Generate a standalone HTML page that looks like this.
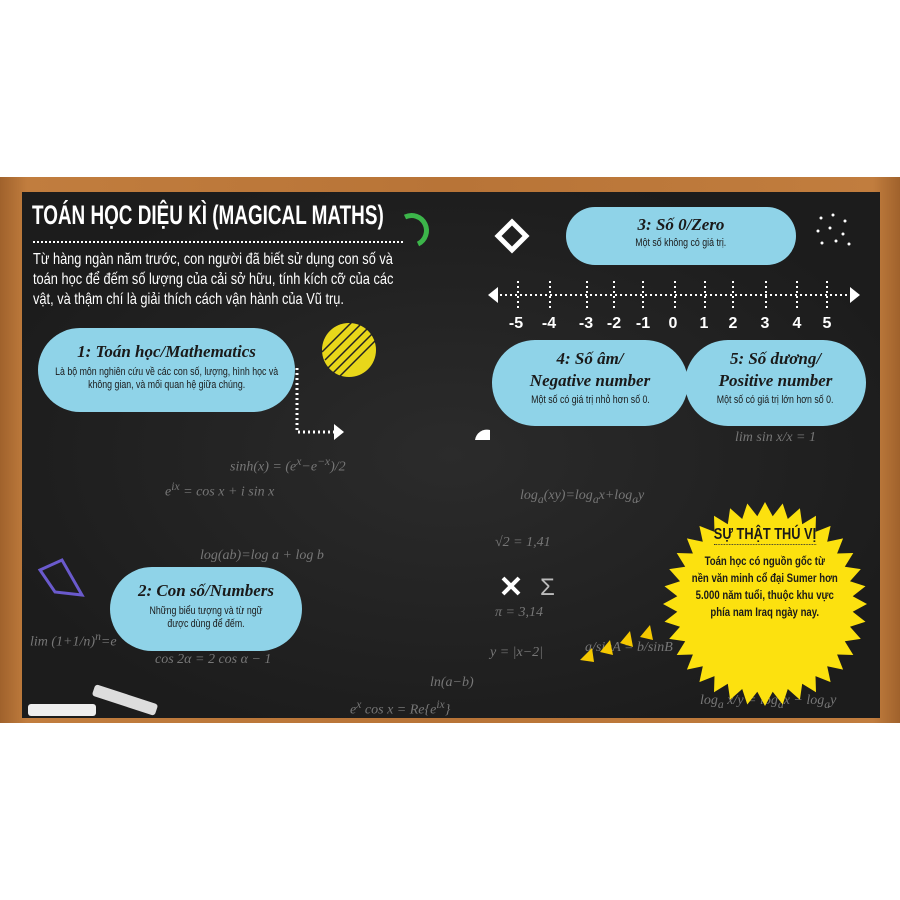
<!DOCTYPE html>
<html><head><meta charset="utf-8"><style>
body{margin:0;width:900px;height:900px;background:#fff;position:relative;overflow:hidden;font-family:"Liberation Sans",sans-serif}
.frame{position:absolute;left:0;top:177px;width:900px;height:546px;background:linear-gradient(90deg,#a0622c,#c17d3e 3%,#b87437 50%,#c17d3e 97%,#a0622c)}
.board{position:absolute;left:22px;top:192px;width:858px;height:526px;background:radial-gradient(ellipse at 50% 50%,#2b2b2b,#1c1c1c 80%)}
.pill{position:absolute;background:#8fd3e8;border-radius:45px;text-align:center;color:#1a1a1a}
.t{font-family:"Liberation Serif",serif;font-style:italic;font-weight:bold;font-size:17px}
.s{font-size:11px;line-height:13px;display:block;width:125%;margin-left:-12.5%;transform:scaleX(.8);white-space:nowrap}
.w{position:absolute;color:#fff;transform-origin:left top}
.f{position:absolute;color:#777;font-family:"Liberation Serif",serif;font-style:italic;font-size:14px}
</style></head><body>
<div class="frame"></div>
<div class="board"></div>
<div class="f" style="left:230px;top:455px">sinh(x) = (e<sup>x</sup>−e<sup>−x</sup>)/2</div>
<div class="f" style="left:165px;top:480px">e<sup>ix</sup> = cos x + i sin x</div>
<div class="f" style="left:200px;top:548px">log(ab)=log a + log b</div>
<div class="f" style="left:155px;top:652px">cos 2α = 2 cos α − 1</div>
<div class="f" style="left:350px;top:698px">e<sup>x</sup> cos x = Re{e<sup>ix</sup>}</div>
<div class="f" style="left:495px;top:535px">√2 = 1,41</div>
<div class="f" style="left:495px;top:605px">π = 3,14</div>
<div class="f" style="left:490px;top:645px">y = |x−2|</div>
<div class="f" style="left:430px;top:675px">ln(a−b)</div>
<div class="f" style="left:520px;top:488px">log<sub>a</sub>(xy)=log<sub>a</sub>x+log<sub>a</sub>y</div>
<div class="f" style="left:700px;top:693px">log<sub>a</sub> x/y = log<sub>a</sub>x − log<sub>a</sub>y</div>
<div class="f" style="left:585px;top:640px">a/sinA = b/sinB</div>
<div class="f" style="left:30px;top:630px">lim (1+1/n)<sup>n</sup>=e</div>
<div class="f" style="left:735px;top:430px">lim sin x/x = 1</div>
<div class="w" style="left:32px;top:200px;font-size:27px;font-weight:bold;white-space:nowrap;transform:scaleX(.7)">TOÁN HỌC DIỆU KÌ (MAGICAL MATHS)</div>
<div style="position:absolute;left:33px;top:241px;width:370px;border-top:2px dotted #fff"></div>
<div class="w" style="left:33px;top:250px;font-size:16px;line-height:20px;width:480px;white-space:nowrap;transform:scaleX(.8)">Từ hàng ngàn năm trước, con người đã biết sử dụng con số và<br>toán học để đếm số lượng của cải sở hữu, tính kích cỡ của các<br>vật, và thậm chí là giải thích cách vận hành của Vũ trụ.</div>
<svg width="900" height="900" style="position:absolute;left:0;top:0">
<path d="M405 217 A14 14 0 0 1 418 244" stroke="#3cb54a" stroke-width="5" fill="none"/>
<circle cx="349" cy="350" r="27" fill="#e8d71a"/>
<g stroke="#222" stroke-width="1.5"><line x1="325" y1="360" x2="360" y2="325"/><line x1="328" y1="368" x2="368" y2="328"/><line x1="333" y1="373" x2="373" y2="333"/><line x1="340" y1="376" x2="376" y2="340"/><line x1="322" y1="352" x2="352" y2="322"/></g>
<path d="M297 368 L297 432 L335 432" stroke="#fff" stroke-width="3" stroke-dasharray="2 3" fill="none"/>
<polygon points="334,424 344,432 334,440" fill="#fff"/>
<polygon points="512,222 526,236 512,250 498,236" fill="none" stroke="#fff" stroke-width="5"/>
<g fill="#fff"><circle cx="821" cy="218" r="1.5"/><circle cx="833" cy="215" r="1.5"/><circle cx="845" cy="221" r="1.5"/><circle cx="818" cy="231" r="1.5"/><circle cx="830" cy="228" r="1.5"/><circle cx="843" cy="234" r="1.5"/><circle cx="822" cy="243" r="1.5"/><circle cx="836" cy="241" r="1.5"/><circle cx="849" cy="244" r="1.5"/></g>
<line x1="495" y1="295" x2="852" y2="295" stroke="#fff" stroke-width="2" stroke-dasharray="2 3"/>
<polygon points="488,295 498,287 498,303" fill="#fff"/><polygon points="860,295 850,287 850,303" fill="#fff"/>
<g stroke="#fff" stroke-width="2" stroke-dasharray="2 3"><line x1="518" y1="281" x2="518" y2="308"/><line x1="550" y1="281" x2="550" y2="308"/><line x1="587" y1="281" x2="587" y2="308"/><line x1="614" y1="281" x2="614" y2="308"/><line x1="643" y1="281" x2="643" y2="308"/><line x1="675" y1="281" x2="675" y2="308"/><line x1="705" y1="281" x2="705" y2="308"/><line x1="733" y1="281" x2="733" y2="308"/><line x1="766" y1="281" x2="766" y2="308"/><line x1="797" y1="281" x2="797" y2="308"/><line x1="827" y1="281" x2="827" y2="308"/></g>
<g fill="#fff" font-family="Liberation Sans,sans-serif" font-weight="bold" font-size="16" text-anchor="middle"><text x="516" y="328">-5</text><text x="549" y="328">-4</text><text x="586" y="328">-3</text><text x="614" y="328">-2</text><text x="643" y="328">-1</text><text x="673" y="328">0</text><text x="704" y="328">1</text><text x="733" y="328">2</text><text x="765" y="328">3</text><text x="797" y="328">4</text><text x="827" y="328">5</text></g>
<path d="M490 430 A12 12 0 0 0 475 440 L490 440Z" fill="#fff"/>
<path d="M503 578 L519 594 M519 578 L503 594" stroke="#fff" stroke-width="4"/>
<text x="540" y="595" fill="#bbb" font-size="24">Σ</text>
<polygon points="40,570 62,560 82,595 55,592" fill="none" stroke="#6a5acd" stroke-width="3"/>
<g fill="#f5c800"><polygon points="580,660 592,648 594,662"/><polygon points="600,652 610,640 613,655"/><polygon points="620,643 630,631 633,647"/><polygon points="640,637 650,625 653,640"/></g>
<polygon id="star" fill="#fce10f" points=""/>
<rect x="28" y="704" width="68" height="12" rx="3" fill="#eee"/>
<rect x="92" y="694" width="66" height="12" rx="3" fill="#ddd" transform="rotate(18 125 700)"/>
</svg>
<div class="pill" style="left:38px;top:328px;width:257px;height:84px"><div class="t" style="margin-top:14px">1: Toán học/Mathematics</div><div class="s" style="margin-top:4px">Là bộ môn nghiên cứu về các con số, lượng, hình học và<br>không gian, và mối quan hệ giữa chúng.</div></div>
<div class="pill" style="left:110px;top:567px;width:192px;height:84px"><div class="t" style="margin-top:14px">2: Con số/Numbers</div><div class="s" style="margin-top:4px">Những biểu tượng và từ ngữ<br>được dùng để đếm.</div></div>
<div class="pill" style="left:566px;top:207px;width:230px;height:58px;border-radius:29px"><div class="t" style="margin-top:8px">3: Số 0/Zero</div><div class="s" style="margin-top:2px">Một số không có giá trị.</div></div>
<div class="pill" style="left:492px;top:340px;width:196px;height:86px;border-radius:43px"><div class="t" style="margin-top:8px;line-height:22px">4: Số âm/<br>Negative number</div><div class="s" style="margin-top:2px">Một số có giá trị nhỏ hơn số 0.</div></div>
<div class="pill" style="left:685px;top:340px;width:181px;height:86px;border-radius:43px"><div class="t" style="margin-top:8px;line-height:22px">5: Số dương/<br>Positive number</div><div class="s" style="margin-top:2px">Một số có giá trị lớn hơn số 0.</div></div>
<div style="position:absolute;left:690px;top:526px;width:150px;text-align:center;color:#1a1a1a">
<div style="font-weight:bold;font-size:16px;border-bottom:1px dotted #333;display:inline-block;transform:scaleX(.8)">SỰ THẬT THÚ VỊ</div>
<div style="font-size:12px;font-weight:bold;line-height:17px;margin-top:8px;width:125%;margin-left:-12.5%;transform:scaleX(.8);white-space:nowrap">Toán học có nguồn gốc từ<br>nền văn minh cổ đại Sumer hơn<br>5.000 năm tuổi, thuộc khu vực<br>phía nam Iraq ngày nay.</div></div>
<script>
var p=[],cx=765,cy=604,n=36;for(var i=0;i<2*n;i++){var r=i%2?88:102,a=Math.PI*i/n;p.push((cx+r*Math.cos(a)).toFixed(1)+","+(cy+r*Math.sin(a)).toFixed(1));}
var s=document.getElementById('star');s.setAttribute('points',p.join(' '));
</script>
</body></html>
